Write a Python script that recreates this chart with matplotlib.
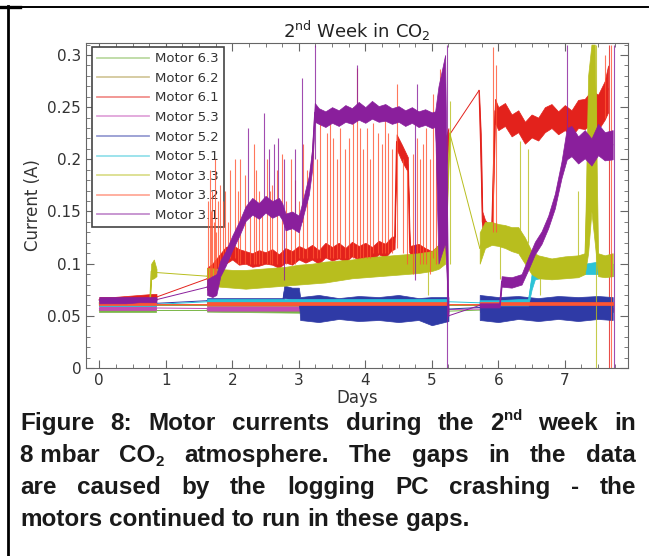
import numpy as np
import matplotlib
matplotlib.use("Agg")
import matplotlib.pyplot as plt
from matplotlib.lines import Line2D
from matplotlib.ticker import MultipleLocator, FormatStrFormatter

# Logged motor currents, read as (day, low, high) envelopes.
# None separates the blocks where the logging PC was down.
m63_t = [0.0, 0.86, None, 1.62, 3.0, 5.25, None, 5.72, 7.72]
m63_lo = [0.054, 0.054, None, 0.054, 0.053, 0.053, None, 0.054, 0.054]
m63_hi = [0.057, 0.057, None, 0.057, 0.056, 0.056, None, 0.057, 0.057]

m62_t = [0.0, 0.86, None, 1.62, 5.25, None, 5.72, 7.72]
m62_lo = [0.059, 0.059, None, 0.059, 0.059, None, 0.059, 0.059]
m62_hi = [0.061, 0.061, None, 0.061, 0.061, None, 0.061, 0.061]

m61_t = [0.0, 0.2, 0.4, 0.6, 0.8, 0.86, None,
         1.62, 1.7, 1.8, 1.9, 2.0, 2.1, 2.2, 2.3, 2.4, 2.5, 2.6, 2.7, 2.8,
         2.9, 3.0, 3.1, 3.2, 3.3, 3.4, 3.5, 3.6, 3.7, 3.8, 3.9, 4.0, 4.1,
         4.2, 4.3, 4.4, 4.44, 4.47, 4.55, 4.64, 4.67, 4.8, 4.9, 5.0, 5.1,
         5.15, 5.2, 5.25, None,
         5.71, 5.74, 5.76, 5.8, 5.85, 5.9, 5.93, 5.95, 6.0, 6.1, 6.2, 6.3, 6.4,
         6.5, 6.6, 6.7, 6.8, 6.9, 7.0, 7.1, 7.2, 7.3, 7.4, 7.5, 7.6, 7.65]
m61_lo = [0.063, 0.063, 0.063, 0.064, 0.065, 0.065, None,
          0.075, 0.078, 0.09, 0.1, 0.104, 0.099, 0.1, 0.097, 0.098, 0.1,
          0.099, 0.096, 0.101, 0.099, 0.104, 0.101, 0.104, 0.1, 0.106,
          0.103, 0.105, 0.102, 0.107, 0.104, 0.106, 0.103, 0.109, 0.106,
          0.113, 0.114, 0.21, 0.198, 0.188, 0.104, 0.106, 0.1, 0.098, 0.104,
          0.125, 0.18, 0.214, None,
          0.266, 0.18, 0.13, 0.12, 0.118, 0.122, 0.18, 0.235, 0.228, 0.232,
          0.222, 0.226, 0.215, 0.221, 0.218, 0.226, 0.23, 0.224, 0.228,
          0.222, 0.23, 0.229, 0.234, 0.228, 0.238, 0.245]
m61_hi = [0.068, 0.068, 0.069, 0.07, 0.071, 0.071, None,
          0.096, 0.1, 0.108, 0.116, 0.118, 0.114, 0.112, 0.11, 0.113, 0.111,
          0.114, 0.109, 0.115, 0.112, 0.117, 0.114, 0.118, 0.113, 0.12,
          0.116, 0.12, 0.115, 0.121, 0.117, 0.12, 0.116, 0.122, 0.119,
          0.126, 0.126, 0.224, 0.214, 0.202, 0.117, 0.119, 0.115, 0.112,
          0.118, 0.155, 0.22, 0.23, None,
          0.266, 0.22, 0.15, 0.142, 0.138, 0.14, 0.22, 0.258, 0.25, 0.254,
          0.243, 0.247, 0.236, 0.243, 0.24, 0.25, 0.253, 0.246, 0.252,
          0.247, 0.257, 0.258, 0.266, 0.262, 0.275, 0.29]

m53_t = [0.0, 0.86, None, 1.62, 3.0, 5.25, None, 5.72, 7.72]
m53_lo = [0.056, 0.056, None, 0.055, 0.055, 0.054, None, 0.055, 0.055]
m53_hi = [0.059, 0.059, None, 0.059, 0.059, 0.058, None, 0.058, 0.058]

m52_t = [0.0, 0.86, None, 1.62, 2.0, 2.5, 2.76, 2.78, 2.9, 3.0, 3.02, 3.3,
         3.6, 3.9, 4.2, 4.5, 4.8, 5.0, 5.25, None,
         5.72, 6.0, 6.3, 6.6, 6.9, 7.2, 7.5, 7.72]
m52_lo = [0.06, 0.06, None, 0.062, 0.062, 0.062, 0.062, 0.067, 0.066, 0.066,
          0.046, 0.044, 0.047, 0.045, 0.046, 0.044, 0.046, 0.041, 0.045, None,
          0.046, 0.044, 0.047, 0.045, 0.047, 0.045, 0.047, 0.046]
m52_hi = [0.064, 0.064, None, 0.067, 0.067, 0.067, 0.067, 0.079, 0.077,
          0.077, 0.068, 0.07, 0.067, 0.069, 0.068, 0.07, 0.067, 0.068, 0.068,
          None,
          0.07, 0.068, 0.069, 0.067, 0.069, 0.068, 0.069, 0.068]

m51_t = [0.0, 0.86, None, 1.62, 5.25, None, 5.72, 6.0, 6.3, 6.45, 6.5, 6.55,
         6.7, 6.9, 7.1, 7.3, 7.5, 7.72]
m51_lo = [0.059, 0.059, None, 0.061, 0.061, None, 0.06, 0.06, 0.06, 0.06,
          0.075, 0.085, 0.087, 0.088, 0.089, 0.09, 0.09, 0.088]
m51_hi = [0.063, 0.063, None, 0.066, 0.066, None, 0.065, 0.065, 0.066, 0.066,
          0.09, 0.098, 0.1, 0.1, 0.1, 0.1, 0.102, 0.1]

m33_t = [0.0, 0.4, 0.76, 0.78, 0.82, 0.86, None,
         1.62, 1.8, 2.0, 2.2, 2.4, 2.6, 2.8, 3.0, 3.2, 3.4, 3.6, 3.8, 4.0,
         4.2, 4.4, 4.6, 4.8, 5.0, 5.1, 5.2, 5.27, None,
         5.72, 5.8, 5.9, 6.0, 6.1, 6.2, 6.3, 6.4, 6.5, 6.6, 6.8, 7.0, 7.2,
         7.3, 7.35, 7.4, 7.45, 7.5, 7.6, 7.72]
m33_lo = [0.061, 0.061, 0.061, 0.085, 0.086, 0.088, None,
          0.08, 0.078, 0.077, 0.076, 0.077, 0.078, 0.079, 0.08, 0.081, 0.082,
          0.084, 0.086, 0.087, 0.088, 0.089, 0.09, 0.091, 0.093, 0.095, 0.1,
          0.225, None,
          0.1, 0.115, 0.118, 0.117, 0.115, 0.112, 0.11, 0.1, 0.09, 0.086,
          0.085, 0.086, 0.087, 0.09, 0.11, 0.15, 0.12, 0.088, 0.087, 0.088]
m33_hi = [0.064, 0.064, 0.064, 0.1, 0.104, 0.095, None,
          0.096, 0.095, 0.094, 0.094, 0.095, 0.096, 0.097, 0.099, 0.1, 0.102,
          0.103, 0.104, 0.106, 0.107, 0.108, 0.109, 0.11, 0.112, 0.118, 0.15,
          0.225, None,
          0.13, 0.14, 0.14, 0.138, 0.137, 0.135, 0.135, 0.125, 0.112, 0.108,
          0.105, 0.107, 0.108, 0.11, 0.28, 0.31, 0.31, 0.11, 0.108, 0.11]

m32_t = [0.0, 0.86, None, 1.62, 5.25, None, 5.72, 7.72]
m32_lo = [0.06, 0.06, None, 0.06, 0.06, None, 0.06, 0.06]
m32_hi = [0.063, 0.063, None, 0.063, 0.063, None, 0.063, 0.063]

m31_t = [0.0, 0.2, 0.4, 0.6, 0.8, 0.86, None,
         1.62, 1.7, 1.76, 1.82, 1.9, 2.0, 2.1, 2.2, 2.3, 2.4, 2.5, 2.6, 2.7,
         2.75, 2.8, 2.9, 3.0, 3.05, 3.15, 3.2, 3.24, 3.3, 3.4, 3.5, 3.6, 3.7,
         3.8, 3.9, 4.0, 4.1, 4.2, 4.3, 4.4, 4.5, 4.6, 4.7, 4.8, 4.9, 5.0,
         5.05, 5.1, 5.2, 5.25, None,
         5.72, 6.02, 6.05, 6.2, 6.35, 6.45, 6.55, 6.65, 6.75, 6.85, 6.95, 7.03,
         7.1, 7.2, 7.3, 7.4, 7.5, 7.6, 7.72]
m31_lo = [0.062, 0.062, 0.062, 0.063, 0.063, 0.063, None,
          0.07, 0.068, 0.07, 0.088, 0.098, 0.113, 0.126, 0.141, 0.147, 0.143,
          0.149, 0.144, 0.147, 0.142, 0.132, 0.134, 0.13, 0.142, 0.166, 0.19,
          0.236, 0.234, 0.231, 0.235, 0.232, 0.236, 0.234, 0.238, 0.235,
          0.239, 0.236, 0.237, 0.234, 0.236, 0.232, 0.235, 0.231, 0.233,
          0.23, 0.231, 0.1, 0.12, 0.05, None,
          0.058, 0.058, 0.078, 0.077, 0.08, 0.094, 0.109, 0.119, 0.134, 0.153,
          0.182, 0.2, 0.203, 0.196, 0.201, 0.194, 0.204, 0.199, 0.2]
m31_hi = [0.068, 0.068, 0.068, 0.068, 0.068, 0.068, None,
          0.085, 0.088, 0.09, 0.103, 0.112, 0.127, 0.14, 0.155, 0.163, 0.158,
          0.165, 0.16, 0.163, 0.158, 0.148, 0.15, 0.146, 0.158, 0.184, 0.21,
          0.254, 0.249, 0.246, 0.25, 0.247, 0.252, 0.249, 0.255, 0.25,
          0.256, 0.251, 0.253, 0.249, 0.251, 0.247, 0.25, 0.246, 0.248,
          0.245, 0.246, 0.27, 0.3, 0.05, None,
          0.062, 0.062, 0.088, 0.087, 0.09, 0.106, 0.121, 0.131, 0.146, 0.167,
          0.198, 0.23, 0.232, 0.222, 0.228, 0.22, 0.234, 0.226, 0.228]

# short excursions (day, low, high)
m32_spk_t = [1.64, 1.66, 1.68, 1.70, 1.72, 1.74, 1.76, 1.78, 1.82, 1.86,
             1.89, 1.93, 1.97, 2.04, 2.08, 2.12, 2.19, 2.27, 2.32, 2.36,
             2.40, 2.45, 2.52, 2.56, 2.60, 2.67, 2.74, 2.81, 2.89, 2.94,
             3.00, 3.06, 3.13, 3.21, 3.28, 3.32, 3.42, 3.47, 3.52, 3.57,
             3.62, 3.69, 3.75, 3.82, 3.87, 3.92, 3.97, 4.02, 4.07, 4.12,
             4.19, 4.25, 4.29, 4.34, 4.40, 4.47, 4.57, 4.62, 4.72, 4.77,
             4.82, 4.87, 4.92, 4.97, 5.02, 5.07, 5.12, 5.92, 5.96, 7.60, 7.70]
m32_spk_lo = [0.08, 0.08, 0.08, 0.08, 0.08, 0.085, 0.085, 0.09, 0.1, 0.1,
              0.105, 0.105, 0.105, 0.105, 0.1, 0.1, 0.1, 0.1, 0.1, 0.1,
              0.1, 0.1, 0.1, 0.1, 0.1, 0.1, 0.1, 0.1, 0.1, 0.1,
              0.105, 0.105, 0.105, 0.105, 0.105, 0.105, 0.105, 0.105, 0.105,
              0.105, 0.105, 0.105, 0.105, 0.105, 0.105, 0.105, 0.105, 0.105,
              0.105, 0.11, 0.11, 0.11, 0.11, 0.11, 0.11, 0.115, 0.11, 0.1,
              0.09, 0.11, 0.1, 0.1, 0.1, 0.09, 0.105, 0.1, 0.11, 0.13, 0.13,
              0.24, 0.0]
m32_spk_hi = [0.16, 0.19, 0.15, 0.17, 0.14, 0.2, 0.13, 0.16, 0.175, 0.16,
              0.17, 0.14, 0.19, 0.2, 0.17, 0.2, 0.185, 0.16, 0.215, 0.19,
              0.17, 0.15, 0.2, 0.17, 0.175, 0.19, 0.205, 0.16, 0.2, 0.18,
              0.16, 0.215, 0.19, 0.22, 0.2, 0.235, 0.225, 0.24, 0.22, 0.2,
              0.23, 0.21, 0.22, 0.25, 0.288, 0.23, 0.21, 0.23, 0.2, 0.235,
              0.225, 0.215, 0.24, 0.225, 0.21, 0.272, 0.2, 0.19, 0.205, 0.22,
              0.2, 0.215, 0.23, 0.2, 0.263, 0.21, 0.287, 0.308, 0.29, 0.3,
              0.31]

m31_spk_t = [2.24, 2.47, 2.55, 2.62, 2.68, 2.78, 2.95, 3.05, 3.24, 3.87,
             4.75, 4.77, 5.23, 7.04, 7.74]
m31_spk_lo = [0.15, 0.15, 0.15, 0.15, 0.15, 0.084, 0.14, 0.14, 0.2, 0.24,
              0.084, 0.24, 0.0, 0.21, 0.0]
m31_spk_hi = [0.23, 0.244, 0.21, 0.215, 0.22, 0.2, 0.21, 0.278, 0.31, 0.29,
              0.24, 0.272, 0.31, 0.31, 0.31]

m33_spk_t = [4.95, 5.28, 6.02, 6.32, 6.44, 6.62, 7.2, 7.47]
m33_spk_lo = [0.07, 0.1, 0.085, 0.13, 0.12, 0.07, 0.1, 0.0]
m33_spk_hi = [0.1, 0.256, 0.12, 0.218, 0.21, 0.1, 0.17, 0.31]

m61_spk_t = [7.66]
m61_spk_lo = [0.0]
m61_spk_hi = [0.31]

motors = [
    ("Motor 6.3", "#7ab648", m63_t, m63_lo, m63_hi, None),
    ("Motor 6.2", "#a8923a", m62_t, m62_lo, m62_hi, None),
    ("Motor 6.1", "#e3221c", m61_t, m61_lo, m61_hi,
     (m61_spk_t, m61_spk_lo, m61_spk_hi)),
    ("Motor 5.3", "#c24bb5", m53_t, m53_lo, m53_hi, None),
    ("Motor 5.2", "#2f3aa6", m52_t, m52_lo, m52_hi, None),
    ("Motor 5.1", "#2cc3d6", m51_t, m51_lo, m51_hi, None),
    ("Motor 3.3", "#b8be1e", m33_t, m33_lo, m33_hi,
     (m33_spk_t, m33_spk_lo, m33_spk_hi)),
    ("Motor 3.2", "#ff5533", m32_t, m32_lo, m32_hi,
     (m32_spk_t, m32_spk_lo, m32_spk_hi)),
    ("Motor 3.1", "#8a1f9c", m31_t, m31_lo, m31_hi,
     (m31_spk_t, m31_spk_lo, m31_spk_hi)),
]


def split_blocks(t, lo, hi):
    blocks, cur = [], []
    for a, b, c in zip(t, lo, hi):
        if a is None:
            blocks.append(np.array(cur))
            cur = []
        else:
            cur.append((a, b, c))
    blocks.append(np.array(cur))
    return blocks


W, H = 650, 556
fig = plt.figure(figsize=(W / 100, H / 100), dpi=100)
ax = fig.add_axes([86 / W, 1 - 368 / H, 542 / W, 325 / H])

handles = []
for z, (label, col, t, lo, hi, spikes) in enumerate(motors):
    blocks = split_blocks(t, lo, hi)
    for b in blocks:
        ax.fill_between(b[:, 0], b[:, 1], b[:, 2], color=col, lw=0.5,
                        zorder=2 + z)
        ax.plot(b[:, 0], (b[:, 1] + b[:, 2]) / 2, color=col, lw=0.8,
                zorder=2 + z)
    # straight line across each logging gap
    for b0, b1 in zip(blocks[:-1], blocks[1:]):
        ax.plot([b0[-1, 0], b1[0, 0]],
                [(b0[-1, 1] + b0[-1, 2]) / 2, (b1[0, 1] + b1[0, 2]) / 2],
                color=col, lw=0.7, zorder=2 + z)
    if spikes is not None:
        ax.vlines(spikes[0], spikes[1], spikes[2], color=col, lw=0.8,
                  alpha=0.8, zorder=2 + z)
    handles.append(Line2D([], [], color=col, lw=1.3, alpha=0.5))

ax.set_xlim(-0.2, 7.95)
ax.set_ylim(0, 0.3115)
ax.set_xticks(range(8))
ax.set_yticks([0, 0.05, 0.1, 0.15, 0.2, 0.25, 0.3])
ax.yaxis.set_major_formatter(FormatStrFormatter("%g"))
ax.xaxis.set_minor_locator(MultipleLocator(0.25))
ax.yaxis.set_minor_locator(MultipleLocator(0.01))
ax.tick_params(which="both", direction="in", top=True, right=True,
               colors="#666666", labelcolor="#333333")
ax.tick_params(which="major", length=6, labelsize=11)
ax.tick_params(which="minor", length=3)
for sp in ax.spines.values():
    sp.set_color("#666666")

ax.set_title(r"2$^{\mathrm{nd}}$ Week in CO$_2$", fontsize=13,
             color="#222222", pad=4)
ax.set_xlabel("Days", fontsize=12, color="#333333", labelpad=1)
ax.set_ylabel("Current (A)", fontsize=12, color="#333333")

leg = ax.legend(handles, [m[0] for m in motors], loc="upper left",
                bbox_to_anchor=(0.011, 0.988), borderaxespad=0,
                fontsize=9.5, handlelength=3.9, handletextpad=0.5,
                labelspacing=0.5, fancybox=False, framealpha=1)
leg.get_frame().set_edgecolor("#444444")
leg.get_frame().set_linewidth(1.2)
for txt in leg.get_texts():
    txt.set_color("#333333")

# page frame around the figure
fig.add_artist(Line2D([7.5 / W, 7.5 / W], [0, 1 - 6 / H], color="black",
                      lw=2, transform=fig.transFigure))
fig.add_artist(Line2D([0, 648 / W], [1 - 6.5 / H, 1 - 6.5 / H],
                      color="black", lw=1.4, transform=fig.transFigure))
fig.add_artist(Line2D([0, 20 / W], [1 - 6.5 / H, 1 - 6.5 / H],
                      color="black", lw=2.4, transform=fig.transFigure))

# justified bold caption
cap_family, cap_size = "Liberation Sans", 17.5
caption = [
    ["Figure", "8:", "Motor", "currents", "during", "the", "2^nd", "week",
     "in"],
    ["8 mbar", "CO_2", "atmosphere.", "The", "gaps", "in", "the", "data"],
    ["are", "caused", "by", "the", "logging", "PC", "crashing", "-", "the"],
    ["motors", "continued", "to", "run", "in", "these", "gaps."],
]
baselines = [430, 462, 494, 526]
x_left, x_right = 20, 636

renderer = fig.canvas.get_renderer()


def width_of(s, size):
    t = fig.text(0, 0, s, fontsize=size, fontweight="bold",
                 family=cap_family)
    w = t.get_window_extent(renderer).width
    t.remove()
    return w


def parts_of(word):
    px = cap_size * 100 / 72
    if "^" in word:
        a, b = word.split("^")
        return [(a, cap_size, 0), (b, cap_size * 0.62, 0.42 * px)]
    if "_" in word:
        a, b = word.split("_")
        return [(a, cap_size, 0), (b, cap_size * 0.62, -0.18 * px)]
    return [(word, cap_size, 0)]


space_w = width_of("a a", cap_size) - width_of("aa", cap_size)
for i, (words, y0) in enumerate(zip(caption, baselines)):
    pieces = [parts_of(w) for w in words]
    widths = [sum(width_of(s, fs) for s, fs, _ in p) for p in pieces]
    if i < len(caption) - 1:
        gap = (x_right - x_left - sum(widths)) / (len(words) - 1)
    else:
        gap = space_w
    x = x_left
    for p, w in zip(pieces, widths):
        xx = x
        for s, fs, dy in p:
            fig.text(xx / W, 1 - (y0 - dy) / H, s, fontsize=fs,
                     fontweight="bold", family=cap_family, va="baseline",
                     color="#1a1a1a")
            xx += width_of(s, fs)
        x += w + gap

fig.savefig("out.png", dpi=100)
